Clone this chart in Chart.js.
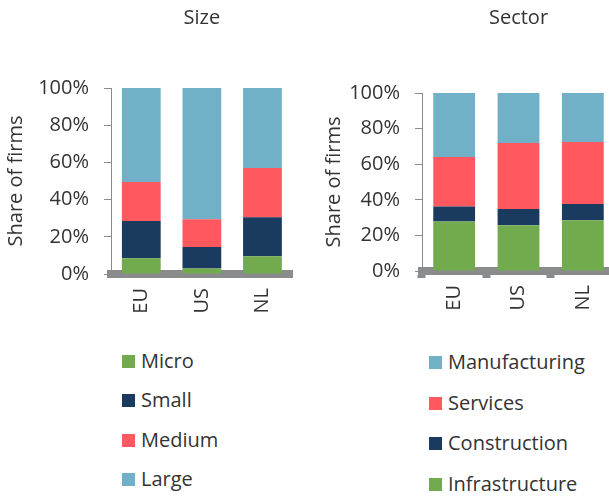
<!DOCTYPE html>
<html>
<head>
<meta charset="utf-8">
<script src="https://cdn.jsdelivr.net/npm/chart.js@4/dist/chart.umd.min.js"></script>
<style>
  html, body { margin: 0; padding: 0; background: #fff; }
  body { width: 609px; height: 497px; position: relative; overflow: hidden; font-family: "Open Sans", sans-serif; }
  canvas { position: absolute; top: 0; }
  #c1 { left: 0; }
  #c2 { left: 318px; }
  .leg { position: absolute; font-size: 20px; color: #333; white-space: nowrap; line-height: 24px; height: 24px; }
  .leg span.box { position: absolute; left: 0; top: 5px; width: 13px; height: 13px; }
  .leg span.txt { position: absolute; left: 19px; top: -1px; }
</style>
</head>
<body>
<canvas id="c1" width="302" height="330"></canvas>
<canvas id="c2" width="297" height="330"></canvas>
<div id="leg1"></div>
<div id="leg2"></div>
<script>
// ---- Data ----
const categories = ['EU', 'US', 'NL'];
const yTicks = [0, 20, 40, 60, 80, 100];

// Size panel (% of firms)
const micro  = [8.5, 3.0, 9.5];
const small  = [20.0, 11.5, 21.0];
const medium = [21.0, 15.0, 26.5];
const large  = [50.5, 70.5, 43.0];

// Sector panel (% of firms)
const infrastructure = [27.8, 25.7, 28.5];
const construction   = [8.5, 9.1, 9.1];
const services       = [27.7, 37.1, 34.9];
const manufacturing  = [36.0, 28.1, 27.5];

const sizeTitle = 'Size';
const sectorTitle = 'Sector';
const yLabel = 'Share of firms';

// ---- Styles ----
const GREEN = '#72ab4d', NAVY = '#1b3a5f', RED = '#ff585e', BLUE = '#71b1c8', GREY = '#898b8d', TXT = '#333333';
const FONT = "'Open Sans', sans-serif";
Chart.defaults.font.family = FONT;
Chart.defaults.font.size = 20;
Chart.defaults.color = TXT;

function ds(label, data, color, bp) {
  return { label, data, backgroundColor: color, borderWidth: 0, barPercentage: bp, categoryPercentage: 1.0 };
}

function makeOptions(title, titleBottom, yWidth, xHeight, rightPanel) {
  return {
    responsive: false,
    animation: false,
    devicePixelRatio: 1,
    layout: { padding: 0 },
    plugins: {
      legend: { display: false },
      tooltip: { enabled: false },
      title: {
        display: true, text: title, fullSize: false,
        font: { size: 20, weight: 'normal', family: FONT }, color: TXT,
        padding: { top: 6, bottom: titleBottom }
      }
    },
    scales: {
      x: {
        stacked: true,
        grid: rightPanel
          ? { display: true, drawOnChartArea: false, drawTicks: true, tickLength: 7, tickWidth: 8, tickColor: GREY, color: GREY }
          : { display: false, drawTicks: false, tickLength: 0 },
        border: { display: true, color: GREY, width: 8 },
        ticks: { minRotation: 90, maxRotation: 90, padding: rightPanel ? 7 : 14, font: { size: 20 }, color: TXT },
        afterFit: (s) => { s.height = xHeight; }
      },
      y: {
        stacked: true, min: 0, max: 100,
        afterBuildTicks: (s) => { s.ticks = yTicks.map(v => ({ value: v })); },
        grid: { display: true, drawOnChartArea: false, drawTicks: true, tickLength: 7, color: GREY, lineWidth: 1 },
        border: { display: true, color: GREY, width: 1 },
        ticks: { padding: 15, font: { size: 20 }, color: TXT, callback: (v) => v + '%' },
        title: { display: true, text: yLabel, font: { size: 20 }, color: TXT, padding: { top: 4, bottom: 4 } },
        afterFit: (s) => { s.width = yWidth; }
      }
    }
  };
}

const chart1 = new Chart(document.getElementById('c1'), {
  type: 'bar',
  data: {
    labels: categories,
    datasets: [
      ds('Micro', micro, GREEN, 0.64),
      ds('Small', small, NAVY, 0.64),
      ds('Medium', medium, RED, 0.64),
      ds('Large', large, BLUE, 0.64)
    ]
  },
  options: makeOptions(sizeTitle, 58, 111, 56, false)
});

const chart2 = new Chart(document.getElementById('c2'), {
  type: 'bar',
  data: {
    labels: categories,
    datasets: [
      ds('Infrastructure', infrastructure, GREEN, 0.65),
      ds('Construction', construction, NAVY, 0.65),
      ds('Services', services, RED, 0.65),
      ds('Manufacturing', manufacturing, BLUE, 0.65)
    ]
  },
  options: makeOptions(sectorTitle, 63, 104, 59, true)
});

// ---- HTML legends built from the chart datasets ----
function buildLegend(el, chart, left, top0, step, reverse) {
  let items = chart.data.datasets.map(d => ({ label: d.label, color: d.backgroundColor }));
  if (reverse) items = items.reverse();
  items.forEach((it, i) => {
    const div = document.createElement('div');
    div.className = 'leg';
    div.style.left = left + 'px';
    div.style.top = (top0 + i * step) + 'px';
    const b = document.createElement('span'); b.className = 'box'; b.style.background = it.color;
    const t = document.createElement('span'); t.className = 'txt'; t.textContent = it.label;
    div.appendChild(b); div.appendChild(t);
    el.appendChild(div);
  });
}
buildLegend(document.getElementById('leg1'), chart1, 122, 350, 39.3, false);
buildLegend(document.getElementById('leg2'), chart2, 429, 351, 40.7, true);
</script>
</body>
</html>
